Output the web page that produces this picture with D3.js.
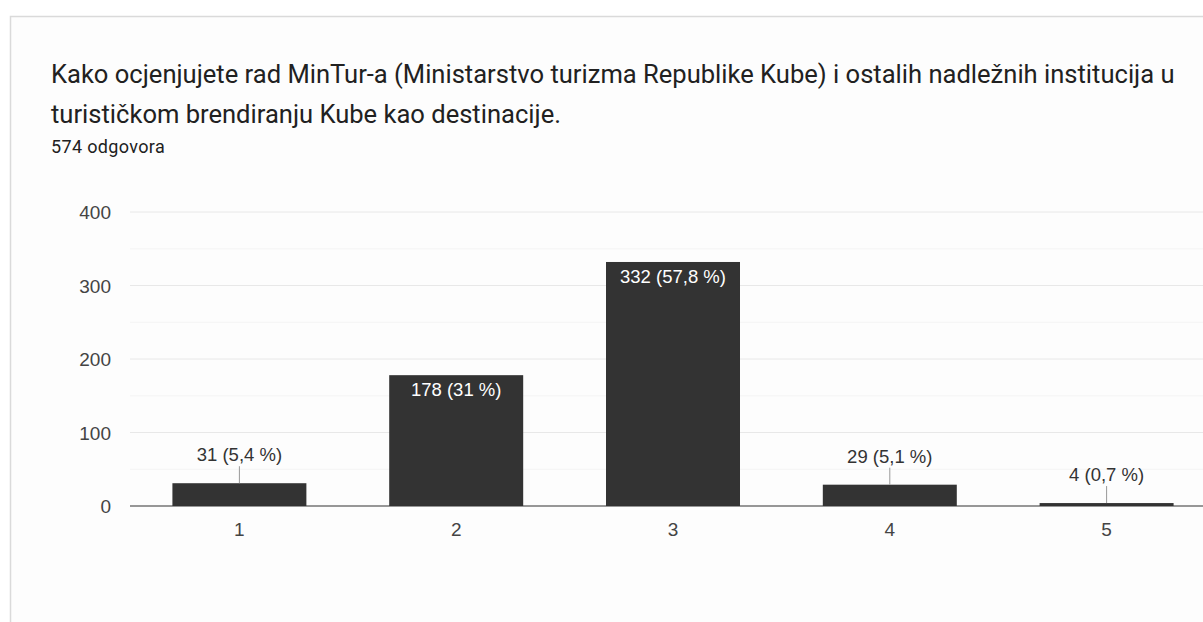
<!DOCTYPE html>
<html><head><meta charset="utf-8">
<script src="https://cdn.jsdelivr.net/npm/d3@7"></script>
<style>
body{margin:0;background:#fff;font-family:Roboto,Arial,sans-serif;}
svg{display:block;}
</style></head><body>
<svg id="c" width="1203" height="622"></svg>
<script>
const titleLines = ["Kako ocjenjujete rad MinTur-a (Ministarstvo turizma Republike Kube) i ostalih nadležnih institucija u","turističkom brendiranju Kube kao destinacije."];
const subtitle = "574 odgovora";
const categories = ["1","2","3","4","5"];
const values = [31,178,332,29,4];
const percents = ["5,4","31","57,8","5,1","0,7"];
const yTicks = [0,100,200,300,400];
const yMinor = [50,150,250,350];

const chartFont = "'Liberation Sans',Arial,sans-serif";
const svg = d3.select("#c");
// card
svg.append("rect").attr("x",10.5).attr("y",16.5).attr("width",1300).attr("height",700)
  .attr("fill","#fdfdfd").attr("stroke","#dadada").attr("stroke-width",1.5);

const tg = svg.append("g").attr("fill","#212121");
titleLines.forEach((t,i)=>{
  tg.append("text").attr("x",51).attr("y",83+i*40).attr("font-size",25.55).text(t);
});
svg.append("text").attr("x",51).attr("y",153).attr("font-size",18).attr("letter-spacing","0.35px").attr("fill","#212121").text(subtitle);

const x = d3.scaleBand().domain(categories).range([131,1215]).paddingInner(0.382).paddingOuter(0.191);
const y = d3.scaleLinear().domain([0,400]).range([506,212]);
const gridX0 = 130, gridX1 = 1203;

svg.append("g").selectAll("line").data(yMinor).join("line")
  .attr("x1",gridX0).attr("x2",gridX1).attr("y1",d=>y(d)).attr("y2",d=>y(d))
  .attr("stroke","#f4f4f4").attr("stroke-width",1);
svg.append("g").selectAll("line").data(yTicks.filter(d=>d>0)).join("line")
  .attr("x1",gridX0).attr("x2",gridX1).attr("y1",d=>y(d)).attr("y2",d=>y(d))
  .attr("stroke","#e8e8e8").attr("stroke-width",1);

const yAxis = d3.axisLeft(y).tickValues(yTicks).tickSize(0).tickPadding(0);
const ya = svg.append("g").attr("transform","translate(111,0)").call(yAxis);
ya.select(".domain").remove();
ya.selectAll("text").attr("font-size",19).attr("fill","#444").attr("font-family",chartFont).attr("dy","0.35em");

// bars
svg.append("g").selectAll("rect").data(values).join("rect")
  .attr("x",(d,i)=>x(categories[i])).attr("width",x.bandwidth())
  .attr("y",d=>y(d)).attr("height",d=>y(0)-y(d)).attr("fill","#333333");

// zero line
svg.append("line").attr("x1",gridX0).attr("x2",gridX1).attr("y1",y(0)).attr("y2",y(0))
  .attr("stroke","#333").attr("stroke-width",1.2);

const xAxis = d3.axisBottom(x).tickSize(0).tickPadding(0);
const xa = svg.append("g").attr("transform","translate(0,"+(y(0)+23)+")").call(xAxis);
xa.select(".domain").remove();
xa.selectAll("text").attr("font-size",19).attr("fill","#444").attr("font-family",chartFont).attr("dy","0.35em");

// labels
const lg = svg.append("g").attr("font-size",18.5).attr("text-anchor","middle").attr("font-family",chartFont);
values.forEach((v,i)=>{
  const cx = x(categories[i]) + x.bandwidth()/2;
  const label = v+" ("+percents[i]+" %)";
  if (y(0)-y(v) > 30) {
    lg.append("text").attr("x",cx).attr("y",y(v)+21).attr("fill","#fff").text(label);
  } else {
    const top = y(v);
    const ly = top - 17;
    svg.append("line").attr("x1",cx).attr("x2",cx).attr("y1",top).attr("y2",ly)
      .attr("stroke","#999").attr("stroke-width",1);
    lg.append("text").attr("x",cx).attr("y",ly-5).attr("fill","#333").text(label);
  }
});
</script></body></html>
